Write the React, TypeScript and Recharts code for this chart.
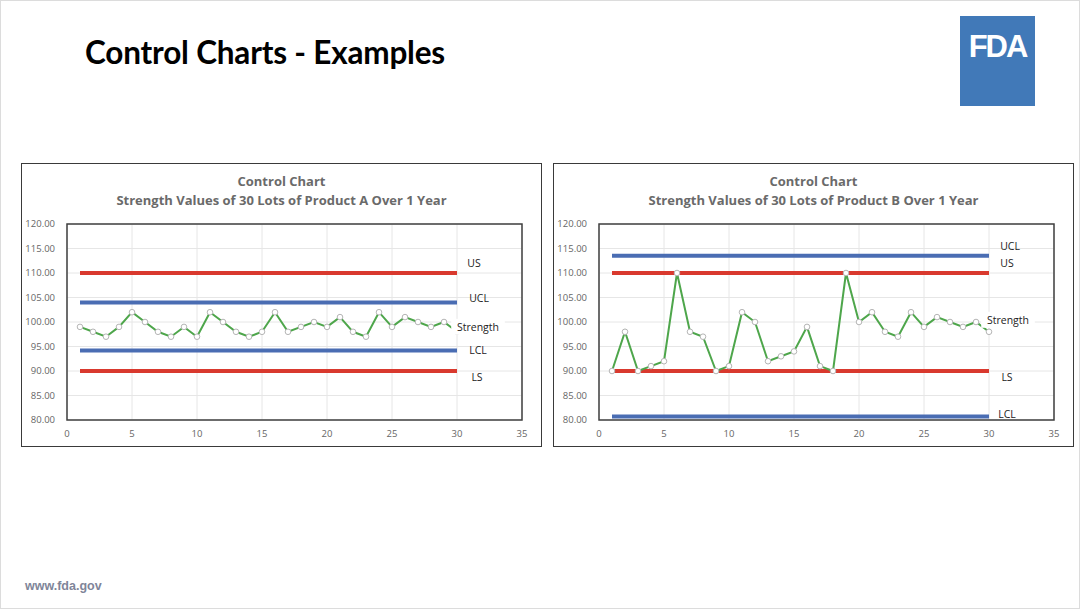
import React from "react";
import { LineChart, Line, XAxis, YAxis, CartesianGrid, ReferenceArea } from "recharts";

const lots = [1, 2, 3, 4, 5, 6, 7, 8, 9, 10, 11, 12, 13, 14, 15, 16, 17, 18, 19, 20, 21, 22, 23, 24, 25, 26, 27, 28, 29, 30];

const strengthA = [99, 98, 97, 99, 102, 100, 98, 97, 99, 97, 102, 100, 98, 97, 98, 102, 98, 99, 100, 99, 101, 98, 97, 102, 99, 101, 100, 99, 100, 98];
const strengthB = [90, 98, 90, 91, 92, 110, 98, 97, 90, 91, 102, 100, 92, 93, 94, 99, 91, 90, 110, 100, 102, 98, 97, 102, 99, 101, 100, 99, 100, 98];

const limitsA = { US: 110, UCL: 104, LCL: 94.2, LS: 90 };
const limitsB = { US: 110, UCL: 113.5, LCL: 80.7, LS: 90 };

const xTicks = [0, 5, 10, 15, 20, 25, 30, 35];
const yTicks = [80, 85, 90, 95, 100, 105, 110, 115, 120];

const RED = "#d9392e";
const BLUE = "#4a6db3";
const GREEN = "#4ea64b";

const buildRows = (strength: number[], limits: Record<string, number>) =>
  lots.map((lot, i) => ({ lot, Strength: strength[i], ...limits }));

// label offsets (dx, dy) from the last point of each series
type Offsets = Record<string, [number, number]>;
const offsetsA: Offsets = { US: [17, -10], UCL: [22, -4], Strength: [21, -5], LCL: [21, 0], LS: [20, 6] };
const offsetsB: Offsets = { US: [18, -10], UCL: [21, -10], Strength: [19, -12], LCL: [18, -3], LS: [18, 6] };

function endLabel(name: string, offsets: Offsets, boxed = false) {
  return (props: any) => {
    const { x, y, index } = props;
    if (index !== lots.length - 1) return null;
    const [dx, dy] = offsets[name];
    const w = name.length * 6.2 + 4;
    return (
      <g key={`lbl-${name}`}>
        {boxed && <rect x={x + dx - w / 2} y={y + dy - 8} width={w} height={16} fill="#fff" />}
        <text
          x={x + dx}
          y={y + dy}
          textAnchor="middle"
          dominantBaseline="central"
          fontSize={10.5}
          fill="#222"
          fontFamily="'Open Sans', sans-serif"
        >
          {name}
        </text>
      </g>
    );
  };
}

function ControlChart({ product, strength, limits, offsets, left }: {
  product: string;
  strength: number[];
  limits: Record<string, number>;
  offsets: Offsets;
  left: number;
}) {
  const rows = buildRows(strength, limits);
  const tick = { fontSize: 9.5, fill: "#666", fontFamily: "'Open Sans', sans-serif" };
  const limitLine = (key: string, color: string) => (
    <Line
      key={key}
      dataKey={key}
      stroke={color}
      strokeWidth={4}
      dot={false}
      isAnimationActive={false}
      label={endLabel(key, offsets)}
    />
  );
  return (
    <div
      style={{
        position: "absolute",
        left,
        top: 162,
        width: 519,
        height: 282,
        border: "1.5px solid #3a3a3a",
        background: "#fff",
      }}
    >
      <div
        style={{
          position: "absolute",
          left: 0,
          width: "100%",
          top: 8,
          textAlign: "center",
          color: "#6a6a6a",
          fontWeight: 700,
          fontSize: 13,
          lineHeight: "19px",
          fontFamily: "'Open Sans', sans-serif",
        }}
      >
        <div>Control Chart</div>
        <div>Strength Values of 30 Lots of Product {product} Over 1 Year</div>
      </div>
      <LineChart width={519} height={282} data={rows} margin={{ top: 60, right: 19, bottom: 6, left: 5 }}>
        <CartesianGrid stroke="#e6e6e6" verticalValues={xTicks} horizontalValues={yTicks} />
        <XAxis
          type="number"
          dataKey="lot"
          domain={[0, 35]}
          ticks={xTicks}
          axisLine={false}
          tickLine={false}
          tick={tick}
          height={20}
          tickMargin={4}
        />
        <YAxis
          type="number"
          domain={[80, 120]}
          ticks={yTicks}
          axisLine={false}
          tickLine={false}
          tick={tick}
          width={40}
          tickMargin={6}
          tickFormatter={(v: number) => v.toFixed(2)}
        />
        <ReferenceArea x1={0} x2={35} y1={80} y2={120} fill="none" stroke="#404040" strokeWidth={1.5} fillOpacity={0} />
        {limitLine("US", RED)}
        {limitLine("LS", RED)}
        {limitLine("UCL", BLUE)}
        {limitLine("LCL", BLUE)}
        <Line
          dataKey="Strength"
          stroke={GREEN}
          strokeWidth={2}
          dot={{ r: 2.8, fill: "#fff", stroke: "#b5b5b5", strokeWidth: 1 }}
          isAnimationActive={false}
          label={endLabel("Strength", offsets, true)}
        />
      </LineChart>
    </div>
  );
}

export default function App() {
  return (
    <div
      style={{
        position: "absolute",
        left: 0,
        top: 0,
        width: 1078,
        height: 607,
        border: "1px solid #dcdcdc",
        background: "#fff",
        overflow: "hidden",
      }}
    >
      <div
        style={{
          position: "absolute",
          left: 84,
          top: 32,
          fontSize: 31.5,
          fontWeight: 700,
          fontFamily: "Lato, 'Open Sans', sans-serif",
          color: "#000",
          letterSpacing: -0.2,
        }}
      >
        Control Charts - Examples
      </div>
      <div
        style={{
          position: "absolute",
          left: 959,
          top: 15,
          width: 75,
          height: 90,
          background: "#4179b8",
          color: "#fff",
          fontFamily: "'Liberation Sans', Arial, sans-serif",
          fontWeight: 700,
          fontSize: 31,
          textAlign: "center",
          lineHeight: "62px",
          letterSpacing: -2,
        }}
      >
        FDA
      </div>
      <ControlChart product="A" strength={strengthA} limits={limitsA} offsets={offsetsA} left={20} />
      <ControlChart product="B" strength={strengthB} limits={limitsB} offsets={offsetsB} left={552} />
      <div
        style={{
          position: "absolute",
          left: 24,
          top: 578,
          fontSize: 12.5,
          fontWeight: 700,
          color: "#7f8599",
          fontFamily: "'Liberation Sans', Arial, sans-serif",
        }}
      >
        www.fda.gov
      </div>
    </div>
  );
}
